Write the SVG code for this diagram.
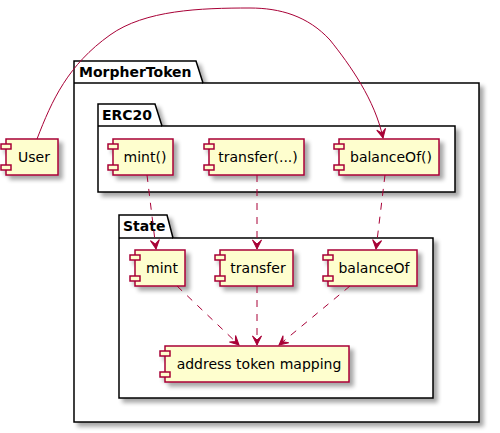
<svg xmlns="http://www.w3.org/2000/svg" width="500" height="433" viewBox="0 0 500 433">
<defs>
<filter id="sh" x="-20%" y="-20%" width="150%" height="150%">
<feGaussianBlur in="SourceAlpha" stdDeviation="2" result="b"/>
<feOffset in="b" dx="4" dy="4" result="o"/>
<feComponentTransfer in="o" result="s"><feFuncA type="linear" slope="0.35"/></feComponentTransfer>
<feMerge><feMergeNode in="s"/><feMergeNode in="SourceGraphic"/></feMerge>
</filter>
<marker id="ah" markerUnits="userSpaceOnUse" markerWidth="12" markerHeight="12" viewBox="-10 -6 12 12" refX="0" refY="0" orient="auto">
<path d="M0,0 L-9,-4.5 L-5,0 L-9,4.5 Z" fill="#A80036" stroke="#A80036" stroke-width="1"/>
</marker>
</defs>
<style>
.pkg{fill:#FFFFFF;stroke:#000000;stroke-width:1.5}
.pt{font-family:"DejaVu Sans",sans-serif;font-size:14px;font-weight:bold;fill:#000}
.cb{fill:#FEFECE;stroke:#A80036;stroke-width:1.5}
.ct{font-family:"DejaVu Sans",sans-serif;font-size:14px;fill:#000;text-anchor:middle}
.ln{fill:none;stroke:#A80036;stroke-width:1}
.ds{stroke-dasharray:7,7}
</style>
<g id="pkg-MorpherToken" filter="url(#sh)">
<path class="pkg" d="M74,61 L196,61 L203,83 L479,83 L479,422 L74,422 Z"/>
<line x1="74" y1="83" x2="203" y2="83" stroke="#000" stroke-width="1.5"/>
</g>
<text class="pt" x="79" y="77">MorpherToken</text>
<g id="pkg-ERC20" filter="url(#sh)">
<path class="pkg" d="M98,104 L155,104 L162,126 L455,126 L455,192 L98,192 Z"/>
<line x1="98" y1="126" x2="162" y2="126" stroke="#000" stroke-width="1.5"/>
</g>
<text class="pt" x="102" y="120">ERC20</text>
<g id="pkg-State" filter="url(#sh)">
<path class="pkg" d="M119,215 L167,215 L173,238 L433,238 L433,398 L119,398 Z"/>
<line x1="119" y1="238" x2="173" y2="238" stroke="#000" stroke-width="1.5"/>
</g>
<text class="pt" x="123" y="231">State</text>

<g id="User">
<g filter="url(#sh)"><rect class="cb" x="6" y="139" width="52" height="36"/><rect class="cb" x="1" y="144" width="10" height="5"/><rect class="cb" x="1" y="165" width="10" height="5"/></g>
<text class="ct" x="34" y="162">User</text>
</g>
<g id="erc-mint">
<g filter="url(#sh)"><rect class="cb" x="113" y="139" width="60" height="36"/><rect class="cb" x="108" y="144" width="10" height="5"/><rect class="cb" x="108" y="165" width="10" height="5"/></g>
<text class="ct" x="145" y="162">mint()</text>
</g>
<g id="erc-transfer">
<g filter="url(#sh)"><rect class="cb" x="209" y="139" width="95" height="36"/><rect class="cb" x="204" y="144" width="10" height="5"/><rect class="cb" x="204" y="165" width="10" height="5"/></g>
<text class="ct" x="258" y="162">transfer(...)</text>
</g>
<g id="erc-balanceOf">
<g filter="url(#sh)"><rect class="cb" x="339" y="139" width="100" height="36"/><rect class="cb" x="334" y="144" width="10" height="5"/><rect class="cb" x="334" y="165" width="10" height="5"/></g>
<text class="ct" x="391" y="162">balanceOf()</text>
</g>
<g id="st-mint">
<g filter="url(#sh)"><rect class="cb" x="135" y="250" width="50" height="36"/><rect class="cb" x="130" y="255" width="10" height="5"/><rect class="cb" x="130" y="276" width="10" height="5"/></g>
<text class="ct" x="162" y="273">mint</text>
</g>
<g id="st-transfer">
<g filter="url(#sh)"><rect class="cb" x="220" y="250" width="73" height="36"/><rect class="cb" x="215" y="255" width="10" height="5"/><rect class="cb" x="215" y="276" width="10" height="5"/></g>
<text class="ct" x="258" y="273">transfer</text>
</g>
<g id="st-balanceOf">
<g filter="url(#sh)"><rect class="cb" x="328" y="250" width="89" height="36"/><rect class="cb" x="323" y="255" width="10" height="5"/><rect class="cb" x="323" y="276" width="10" height="5"/></g>
<text class="ct" x="374" y="273">balanceOf</text>
</g>
<g id="st-mapping">
<g filter="url(#sh)"><rect class="cb" x="165" y="346" width="184" height="36"/><rect class="cb" x="160" y="351" width="10" height="5"/><rect class="cb" x="160" y="372" width="10" height="5"/></g>
<text class="ct" x="259" y="369">address token mapping</text>
</g>

<g id="connectors">
<path class="ln" d="M37,139 C52,100 68,65 110,35 C145,10 200,8 250,8 C280,8 308,16 330,40 C350,65 375,100 383,138" marker-end="url(#ah)"/>
<path class="ln ds" d="M147,175 L156,249" marker-end="url(#ah)"/>
<path class="ln ds" d="M257,175 L257,249" marker-end="url(#ah)"/>
<path class="ln ds" d="M385,175 L376,249" marker-end="url(#ah)"/>
<path class="ln ds" d="M177,286 L239,345" marker-end="url(#ah)"/>
<path class="ln ds" d="M257,286 L257,345" marker-end="url(#ah)"/>
<path class="ln ds" d="M350,286 L279,345" marker-end="url(#ah)"/>
</g>
</svg>
